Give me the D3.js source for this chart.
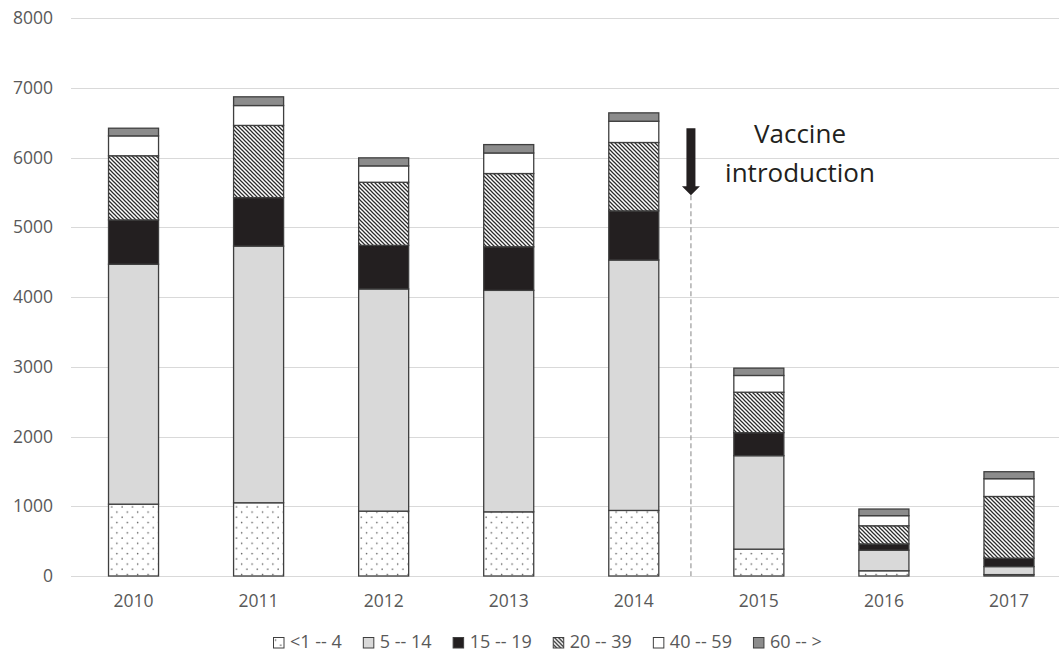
<!DOCTYPE html>
<html>
<head>
<meta charset="utf-8">
<script src="https://cdn.jsdelivr.net/npm/d3@7"></script>
<style>
  html, body { margin: 0; padding: 0; background: #fff; }
  svg { display: block; font-family: "Open Sans", "Noto Sans", sans-serif; }
</style>
</head>
<body>
<svg id="chart" width="1059" height="652"></svg>
<script>
// Reported cases by age group and year
const years = ["2010", "2011", "2012", "2013", "2014", "2015", "2016", "2017"];
const ageGroups = ["<1 -- 4", "5 -- 14", "15 -- 19", "20 -- 39", "40 -- 59", "60 -- >"];

const age0to4   = [1030, 1050,  930,  920,  940, 385,  75,  20];
const age5to14  = [3440, 3680, 3185, 3175, 3590, 1340, 295, 115];
const age15to19 = [ 635,  695,  625,  625,  705, 330,  90, 120];
const age20to39 = [ 920, 1035,  905, 1050,  980, 580, 260, 885];
const age40to59 = [ 285,  285,  235,  295,  305, 240, 145, 255];
const age60plus = [ 110,  125,  115,  120,  120, 105,  95, 100];

const yTicks = [0, 1000, 2000, 3000, 4000, 5000, 6000, 7000, 8000];

// Vaccine introduction marker: between 2014 and 2015
const annotationLines = ["Vaccine", "introduction"];
const vaccineAfter = "2014";

const seriesValues = [age0to4, age5to14, age15to19, age20to39, age40to59, age60plus];

const rows = years.map((yr, i) => {
  const r = { year: yr };
  ageGroups.forEach((g, k) => { r[g] = seriesValues[k][i]; });
  return r;
});

const svg = d3.select("#chart");
const W = 1059, H = 652;

const x = d3.scaleBand().domain(years).range([71, 1071.5]).paddingInner(0.6).paddingOuter(0.3);
const y = d3.scaleLinear().domain([0, 8000]).range([576, 18]);

// Fill patterns
const defs = svg.append("defs");
const dots = defs.append("pattern").attr("id", "p-dots")
  .attr("patternUnits", "userSpaceOnUse").attr("width", 10.4).attr("height", 10.4);
dots.append("rect").attr("width", 10.4).attr("height", 10.4).attr("fill", "#fff");
dots.append("circle").attr("cx", 2.5).attr("cy", 2.5).attr("r", 0.75).attr("fill", "#555");
dots.append("circle").attr("cx", 7.7).attr("cy", 7.7).attr("r", 0.75).attr("fill", "#555");

const hatch = defs.append("pattern").attr("id", "p-hatch")
  .attr("patternUnits", "userSpaceOnUse").attr("width", 4).attr("height", 4);
hatch.append("rect").attr("width", 4).attr("height", 4).attr("fill", "#fff");
hatch.append("path").attr("d", "M-1,-1L5,5M-1,3L1,5M3,-1L5,1")
  .attr("stroke", "#2b2b2b").attr("stroke-width", 1.25);

const fills = {
  "<1 -- 4": "url(#p-dots)",
  "5 -- 14": "#d9d9d9",
  "15 -- 19": "#231f20",
  "20 -- 39": "url(#p-hatch)",
  "40 -- 59": "#ffffff",
  "60 -- >": "#8c8c8c"
};

// Gridlines
svg.append("g").selectAll("line").data(yTicks).join("line")
  .attr("x1", 71).attr("x2", W)
  .attr("y1", d => Math.round(y(d)) + 0.5).attr("y2", d => Math.round(y(d)) + 0.5)
  .attr("stroke", "#d9d9d9").attr("stroke-width", 1);

// Y axis labels
const yAxis = svg.append("g").attr("transform", "translate(62,0)")
  .call(d3.axisLeft(y).tickValues(yTicks).tickFormat(d3.format("d")).tickSize(0).tickPadding(9));
yAxis.select(".domain").remove();
yAxis.selectAll("text").attr("font-size", 17.5).attr("fill", "#595959")
  .attr("font-family", "\"Open Sans\", sans-serif");

// X axis labels
const xAxis = svg.append("g").attr("transform", "translate(0,592)")
  .call(d3.axisBottom(x).tickSize(0).tickPadding(3));
xAxis.select(".domain").remove();
xAxis.selectAll("text").attr("font-size", 17.5).attr("fill", "#595959")
  .attr("font-family", "\"Open Sans\", sans-serif");

// Stacked bars
const stack = d3.stack().keys(ageGroups)(rows);
svg.append("g").selectAll("g").data(stack).join("g")
  .attr("fill", d => fills[d.key])
  .selectAll("rect").data(d => d).join("rect")
  .attr("x", d => x(d.data.year))
  .attr("width", x.bandwidth())
  .attr("y", d => y(d[1]))
  .attr("height", d => y(d[0]) - y(d[1]))
  .attr("stroke", "#3f3f3f").attr("stroke-width", 1.3);

// Vaccine introduction marker
const ax = x(vaccineAfter) + x.bandwidth() / 2 + x.step() * 0.457;
const tipY = y(5460), topY = y(6420);
svg.append("line")
  .attr("x1", ax).attr("x2", ax).attr("y1", tipY).attr("y2", y(0))
  .attr("stroke", "#9a9a9a").attr("stroke-width", 1.2).attr("stroke-dasharray", "5,3");
svg.append("path")
  .attr("d", `M${ax - 4.5},${topY}L${ax + 4.5},${topY}L${ax + 4.5},${tipY - 9}L${ax + 9},${tipY - 9}L${ax},${tipY}L${ax - 9},${tipY - 9}L${ax - 4.5},${tipY - 9}Z`)
  .attr("fill", "#231f20");

svg.append("g").selectAll("text").data(annotationLines).join("text")
  .attr("x", 800).attr("y", (d, i) => 143 + i * 38.5)
  .attr("text-anchor", "middle").attr("font-size", 26).attr("fill", "#231f20")
  .text(d => d);

// Legend
const legend = svg.append("g");
let cx = 0;
ageGroups.forEach(g => {
  const item = legend.append("g").attr("transform", `translate(${cx},0)`);
  item.append("rect").attr("x", 0.5).attr("y", -10.5).attr("width", 10.5).attr("height", 10.5)
    .attr("fill", fills[g]).attr("stroke", "#3f3f3f").attr("stroke-width", 1);
  const t = item.append("text").attr("x", 17).attr("y", 0)
    .attr("font-size", 18).attr("fill", "#595959").text(g);
  cx += 17 + t.node().getComputedTextLength() + 21;
});
const legendW = cx - 21;
legend.attr("transform", `translate(${Math.round(547 - legendW / 2)},648)`);
</script>
</body>
</html>
